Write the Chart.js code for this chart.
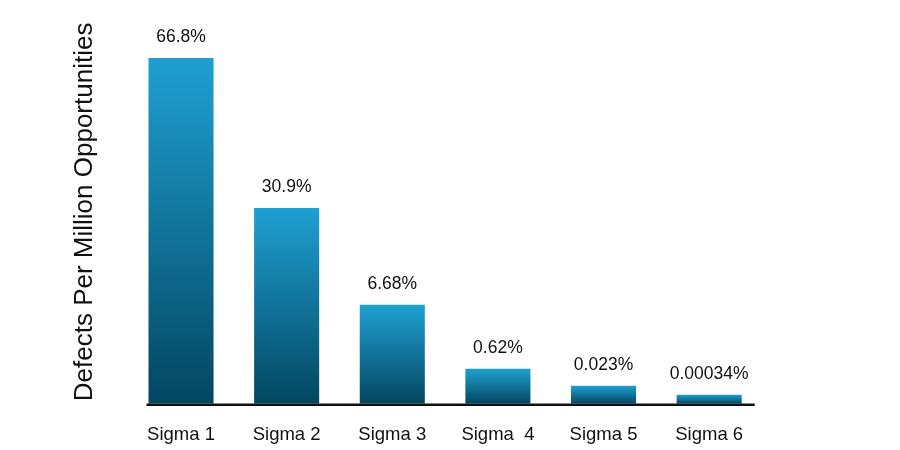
<!DOCTYPE html>
<html>
<head>
<meta charset="utf-8">
<script src="https://cdn.jsdelivr.net/npm/chart.js@4/dist/chart.umd.min.js"></script>
<style>
  html, body { margin: 0; padding: 0; background: #fff; }
  #wrap { width: 900px; height: 450px; }
</style>
</head>
<body>
<div id="wrap"><canvas id="sigmaChart" width="900" height="450"></canvas></div>
<script>
const categories = ['Sigma 1', 'Sigma 2', 'Sigma 3', 'Sigma  4', 'Sigma 5', 'Sigma 6'];
// bar heights as drawn in the picture (not to scale with the labels)
const barHeights = [346, 196, 99, 35, 18, 9];
const valueLabels = ['66.8%', '30.9%', '6.68%', '0.62%', '0.023%', '0.00034%'];
const yMax = 384;

const FONT = '"Liberation Sans", Arial, sans-serif';

function barGradient(context) {
  const chart = context.chart;
  const y = chart.scales.y;
  if (!y || context.dataIndex === undefined) return '#1b8fbf';
  const top = y.getPixelForValue(context.raw);
  const base = y.getPixelForValue(0);
  if (!isFinite(top) || !isFinite(base) || top === base) return '#1b8fbf';
  const g = chart.ctx.createLinearGradient(0, top, 0, base);
  g.addColorStop(0, '#1fa0d2');
  g.addColorStop(1, '#034660');
  return g;
}

const valueLabelPlugin = {
  id: 'valueLabels',
  afterDatasetsDraw(chart) {
    const ctx = chart.ctx;
    const meta = chart.getDatasetMeta(0);
    ctx.save();
    ctx.font = '17.5px ' + FONT;
    ctx.fillStyle = '#111';
    ctx.textAlign = 'center';
    ctx.textBaseline = 'middle';
    meta.data.forEach((bar, i) => {
      ctx.fillText(valueLabels[i], bar.x, bar.y - 21);
    });
    // baseline under the bars
    const first = meta.data[0], last = meta.data[meta.data.length - 1];
    const y0 = chart.scales.y.getPixelForValue(0);
    ctx.strokeStyle = '#111';
    ctx.lineWidth = 2.5;
    ctx.beginPath();
    ctx.moveTo(first.x - first.width / 2 - 2, y0 + 1);
    ctx.lineTo(last.x + last.width / 2 + 13, y0 + 1);
    ctx.stroke();
    ctx.restore();
  }
};

new Chart(document.getElementById('sigmaChart').getContext('2d'), {
  type: 'bar',
  data: {
    labels: categories,
    datasets: [{
      data: barHeights,
      backgroundColor: barGradient,
      borderWidth: 0,
      categoryPercentage: 1,
      barPercentage: 0.616
    }]
  },
  options: {
    responsive: false,
    animation: false,
    layout: { padding: { left: 69, right: 138, top: 20, bottom: -16 } },
    plugins: {
      legend: { display: false },
      tooltip: { enabled: false }
    },
    scales: {
      x: {
        grid: { display: false, drawTicks: false },
        border: { display: false },
        ticks: { color: '#111', font: { family: FONT, size: 18.5 }, padding: 20 }
      },
      y: {
        min: 0,
        max: yMax,
        grid: { display: false, drawTicks: false },
        border: { display: false },
        ticks: { display: false },
        title: {
          display: true,
          text: 'Defects Per Million Opportunities',
          color: '#111',
          font: { family: FONT, size: 26 },
          padding: { top: 0, bottom: 28 }
        }
      }
    }
  },
  plugins: [valueLabelPlugin]
});
</script>
</body>
</html>
